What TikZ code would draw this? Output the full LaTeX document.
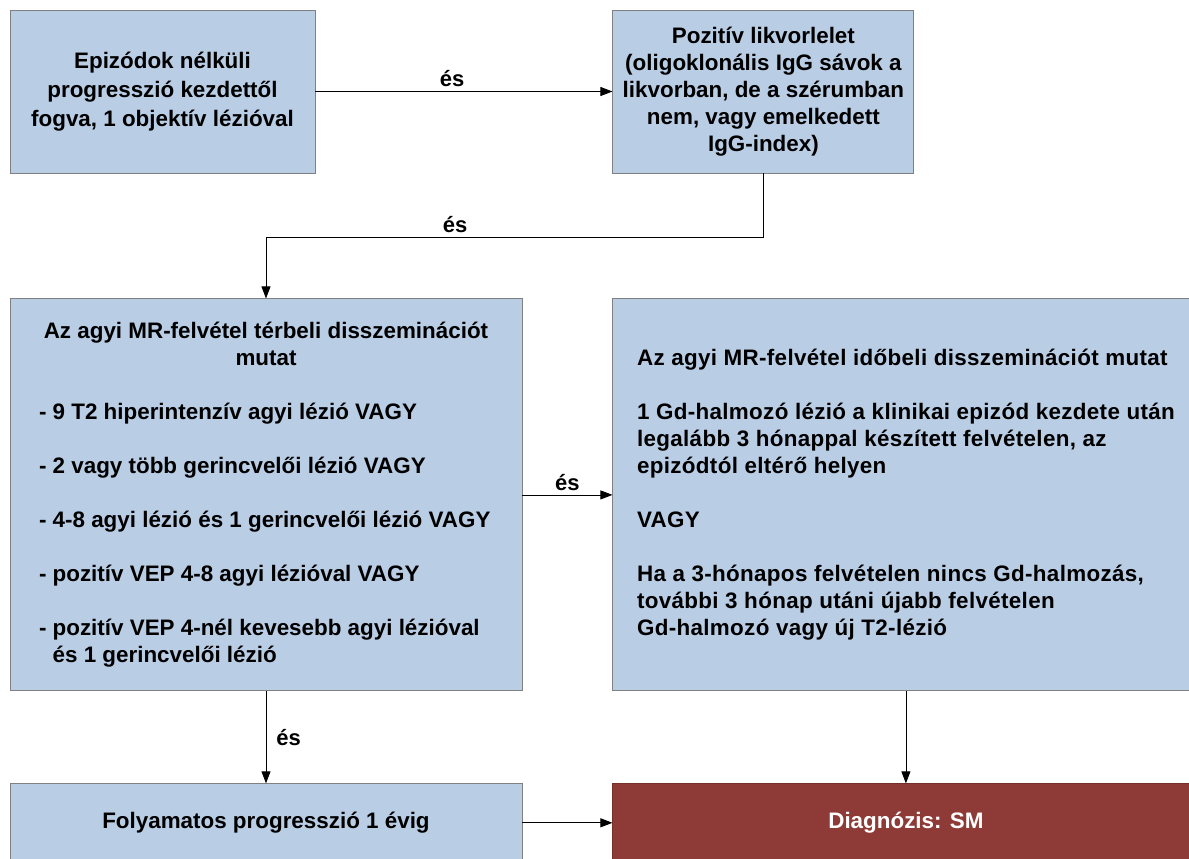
\documentclass[tikz,border=0pt]{standalone}
\usepackage{fontspec}
\setmainfont{Liberation Sans}
\usepackage{tikz}
\usetikzlibrary{arrows.meta, positioning}
\usepackage{xcolor}
\definecolor{boxblue}{RGB}{185,205,229}
\definecolor{boxline}{RGB}{128,128,128}
\definecolor{diagred}{RGB}{142,59,55}

\begin{document}
\begin{tikzpicture}[
    x=1pt, y=1pt,
    block/.style={rectangle, draw=boxline, line width=0.9pt, fill=boxblue, align=center, inner sep=0pt, font=\bfseries\fontsize{22.4}{27}\selectfont},
    lbl/.style={font=\bfseries\fontsize{22}{27}\selectfont, inner sep=4pt},
    line/.style={draw, line width=0.8pt, -{Triangle[length=12pt,width=9pt]}}
]
    \clip (0,0) rectangle (1189,-859);
    \fill[white] (0,0) rectangle (1189,-859);

    % Nodes
    \node (prog) [block, font=\bfseries\fontsize{22.4}{29}\selectfont, minimum width=305pt, minimum height=163pt] at (162.5,-91.5) {Epizódok nélküli\\ progresszió kezdettől\\ fogva, 1 objektív lézióval};
    \node (likvor) [block, minimum width=301pt, minimum height=163pt, right=297pt of prog] {Pozitív likvorlelet\\ (oligoklonális IgG sávok a\\ likvorban, de a szérumban\\ nem, vagy emelkedett\\ IgG-index)};
    \node (terbeli) [block, align=left, minimum width=512pt, minimum height=392pt, below=125pt of prog.south west, anchor=north west] {\makebox[454pt]{Az agyi MR-felvétel térbeli disszeminációt}\\ \makebox[454pt]{mutat}\\[27pt]
        - 9 T2 hiperintenzív agyi lézió VAGY\\[27pt]
        - 2 vagy több gerincvelői lézió VAGY\\[27pt]
        - 4-8 agyi lézió és 1 gerincvelői lézió VAGY\\[27pt]
        - pozitív VEP 4-8 agyi lézióval VAGY\\[27pt]
        - pozitív VEP 4-nél kevesebb agyi lézióval\\ \phantom{-} és 1 gerincvelői lézió};
    \node (idobeli) [block, align=left, font=\bfseries\fontsize{22.4}{27}\selectfont\addfontfeature{LetterSpace=1.5}, minimum width=586pt, minimum height=392pt, right=90pt of terbeli.north east, anchor=north west] {Az agyi MR-felvétel időbeli disszeminációt mutat\\[27pt]
        1 Gd-halmozó lézió a klinikai epizód kezdete után\\ legalább 3 hónappal készített felvételen, az\\ epizódtól eltérő helyen\\[27pt]
        VAGY\\[27pt]
        Ha a 3-hónapos felvételen nincs Gd-halmozás,\\ további 3 hónap utáni újabb felvételen\\ Gd-halmozó vagy új T2-lézió};
    \node (folyam) [block, minimum width=512pt, minimum height=78pt, below=92pt of terbeli] {Folyamatos progresszió 1 évig};
    \node (diag) [block, fill=diagred, draw=diagred!80!black, text=white, minimum width=586pt, minimum height=78pt, right=90pt of folyam] {Diagnózis: SM};

    % Paths
    \path [line] (prog) -- node[lbl, above, pos=0.46] {és} (likvor);
    \path [line] (likvor.south) -- ++(0,-64) -| node[lbl, above, pos=0.31] {és} (terbeli.north);
    \path [line] (terbeli) -- node[lbl, above] {és} (idobeli);
    \path [line] (terbeli) -- node[lbl, right, inner sep=10pt] {és} (folyam);
    \path [line] (idobeli) -- (diag);
    \path [line] (folyam) -- (diag);
\end{tikzpicture}
\end{document}
